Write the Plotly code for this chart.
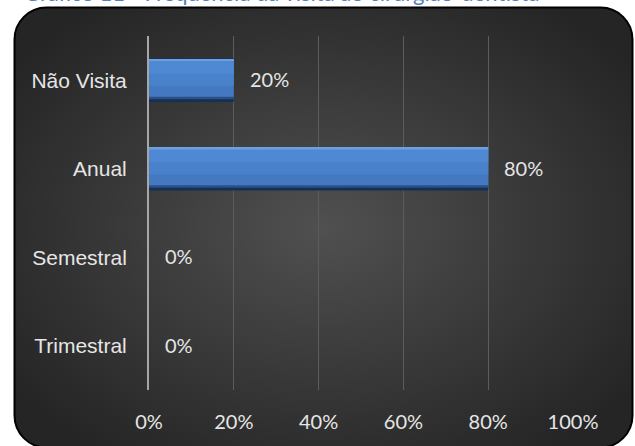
import base64
import plotly.graph_objects as go

# Frequência da visita — share of respondents per category
categories = ["Não Visita", "Anual", "Semestral", "Trimestral"]
shares = [20, 80, 0, 0]
x_ticks = [0, 20, 40, 60, 80, 100]
x_tick_labels = ["0%", "20%", "40%", "60%", "80%", "100%"]
title_text = "Gráfico 11 - Frequência da visita ao cirurgião-dentista"

W, H = 635, 446
L, R, T, B = 149, 62, 36, 56
plot_w, plot_h = W - L - R, H - T - B

# dark rounded panel with a radial gradient, used as the chart background
panel_svg = (
    f"<svg xmlns='http://www.w3.org/2000/svg' width='{W}' height='{H}' viewBox='0 0 {W} {H}'>"
    "<defs><radialGradient id='g' cx='0.5' cy='0.5' r='0.62'>"
    "<stop offset='0' stop-color='#505050'/><stop offset='1' stop-color='#252525'/>"
    "</radialGradient></defs>"
    "<rect x='14.5' y='7.5' width='618' height='440' rx='32' ry='32' "
    "fill='url(#g)' stroke='#000000' stroke-width='2'/></svg>"
)
panel_uri = "data:image/svg+xml;base64," + base64.b64encode(panel_svg.encode()).decode()

label_font = dict(family="Lato, 'Open Sans', sans-serif", size=20, color="#e6e6e6")
cat_font = dict(family="'Liberation Sans', Arial, sans-serif", size=21, color="#e6e6e6")

fig = go.Figure()

# bevelled bar: stacked overlay layers, dark base first, lighter faces on top
bar_layers = [
    # (width, offset, colour)
    (0.49, -0.245, "#172f55"),
    (0.455, -0.240, "#2a5088"),
    (0.425, -0.238, "#4478c0"),
    (0.30, -0.236, "#4a81cb"),
    (0.16, -0.236, "#5089d3"),
    (0.022, -0.240, "#6e9fe0"),
]
for w, off, col in bar_layers:
    fig.add_trace(go.Bar(
        y=categories, x=shares, orientation="h",
        width=w, offset=off,
        marker=dict(color=col, line=dict(width=0)),
        hoverinfo="skip", showlegend=False,
    ))

# value labels to the right of each bar
for cat, v in zip(categories, shares):
    fig.add_annotation(
        x=v, y=cat, xref="x", yref="y",
        text=f"{v}%", showarrow=False,
        xanchor="left", xshift=14, yshift=1,
        font=label_font,
    )

# caption above the panel (runs off the top edge of the page)
fig.add_annotation(
    x=-0.30, y=1, xref="paper", yref="paper",
    text=title_text, showarrow=False,
    xanchor="left", yanchor="bottom", yshift=28,
    font=dict(family="Lato, sans-serif", size=22, color="#4f81bd"),
)

fig.add_layout_image(
    source=panel_uri,
    xref="paper", yref="paper",
    x=-L / plot_w, y=1 + T / plot_h,
    sizex=W / plot_w, sizey=H / plot_h,
    xanchor="left", yanchor="top",
    sizing="stretch", layer="below",
)

fig.update_layout(
    width=W, height=H,
    margin=dict(l=L, r=R, t=T, b=B),
    paper_bgcolor="#ffffff",
    plot_bgcolor="rgba(0,0,0,0)",
    barmode="overlay",
    xaxis=dict(
        range=[0, 100],
        tickvals=x_ticks, ticktext=x_tick_labels,
        showgrid=True, gridcolor="#5c5c5c", gridwidth=1,
        zeroline=False, showline=False,
        ticks="", ticklabelstandoff=18,
        tickfont=label_font,
        fixedrange=True,
    ),
    yaxis=dict(
        autorange="reversed",
        showgrid=False, zeroline=False,
        showline=True, linecolor="#a6a6a6", linewidth=2,
        ticks="", ticklabelstandoff=16,
        tickfont=cat_font,
        fixedrange=True,
    ),
)

fig.write_html("out.html")
